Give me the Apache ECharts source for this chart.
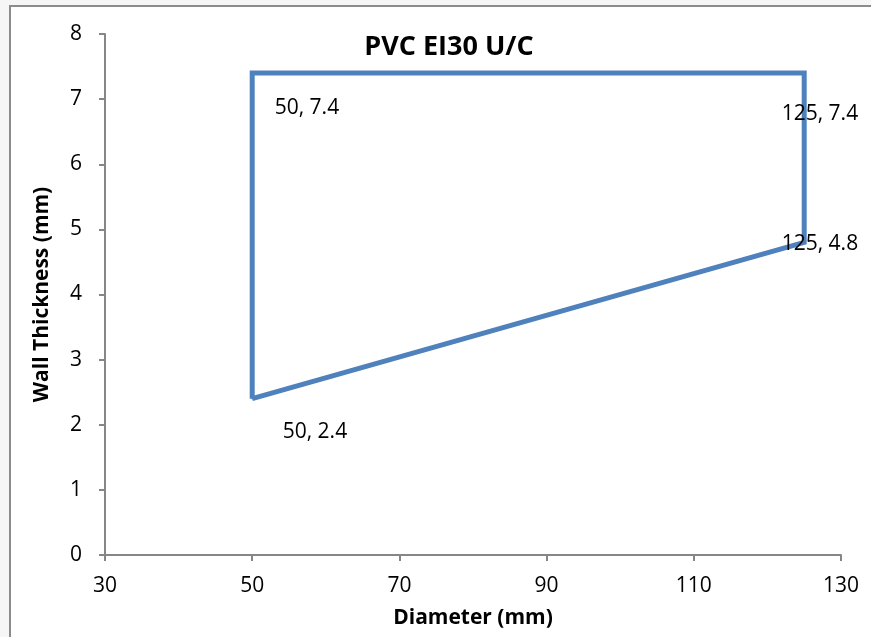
<!DOCTYPE html>
<html>
<head>
<meta charset="utf-8">
<script src="https://cdn.jsdelivr.net/npm/echarts@6/dist/echarts.min.js"></script>
<style>
  html, body { margin: 0; padding: 0; }
  #chart { width: 871px; height: 637px; }
</style>
</head>
<body>
<div id="chart"></div>
<script>
// outline points of the zone, closed back to the start
var diameters = [50, 50, 125, 125, 50];
var thickness = [2.4, 7.4, 7.4, 4.8, 2.4];
var xTicks = [30, 50, 70, 90, 110, 130];
var yTicks = [0, 1, 2, 3, 4, 5, 6, 7, 8];

// where each point label sits relative to its corner
var labelOffsets = [[30, 33], [22, 35], [-23, 41], [-23, 2], null];

var myChart = echarts.init(document.getElementById('chart'));
var font = '"Open Sans", "Noto Sans", sans-serif';
var axisColor = '#868686';

var data = diameters.map(function (d, i) {
    var item = { value: [d, thickness[i]] };
    if (labelOffsets[i]) {
        item.label = {
            show: true,
            position: 'right',
            distance: 0,
            offset: labelOffsets[i],
            formatter: d + ', ' + thickness[i]
        };
    } else {
        item.label = { show: false };
    }
    return item;
});

var option = {
    backgroundColor: '#f6f6f6',
    animation: false,
    graphic: [{
        type: 'rect',
        z: -10,
        shape: { x: 10, y: 6, width: 900, height: 700 },
        style: { fill: '#ffffff', stroke: '#8c8c8c', lineWidth: 2 }
    }],
    title: {
        text: 'PVC EI30 U/C',
        left: 444,
        top: 29,
        textAlign: 'center',
        textStyle: { fontFamily: font, fontSize: 27, fontWeight: 'bold', color: '#000' }
    },
    grid: { left: 105, right: 30, top: 34, bottom: 82 },
    xAxis: {
        type: 'value',
        min: xTicks[0],
        max: xTicks[xTicks.length - 1],
        interval: 20,
        name: 'Diameter (mm)',
        nameLocation: 'middle',
        nameGap: 53,
        nameTextStyle: { fontFamily: font, fontSize: 21, fontWeight: 'bold', color: '#000' },
        axisLine: { show: true, lineStyle: { color: axisColor, width: 2 } },
        axisTick: { show: true, length: 6, lineStyle: { color: axisColor, width: 2 } },
        axisLabel: { fontFamily: font, fontSize: 21, color: '#000', margin: 21 },
        splitLine: { show: false }
    },
    yAxis: {
        type: 'value',
        min: yTicks[0],
        max: yTicks[yTicks.length - 1],
        interval: 1,
        name: 'Wall Thickness (mm)',
        nameLocation: 'middle',
        nameGap: 52,
        nameTextStyle: { fontFamily: font, fontSize: 21, fontWeight: 'bold', color: '#000' },
        axisLine: { show: true, lineStyle: { color: axisColor, width: 2 } },
        axisTick: { show: true, length: 6, lineStyle: { color: axisColor, width: 2 } },
        axisLabel: { fontFamily: font, fontSize: 21, color: '#000', margin: 23 },
        splitLine: { show: false }
    },
    series: [{
        type: 'line',
        data: data,
        symbol: 'circle',
        symbolSize: 1,
        showSymbol: true,
        lineStyle: { color: '#4F81BD', width: 5, join: 'miter' },
        itemStyle: { color: '#4F81BD' },
        label: {
            fontFamily: font,
            fontSize: 21,
            color: '#000'
        }
    }]
};

myChart.setOption(option);

window.addEventListener('resize', function () {
    myChart.resize();
});
</script>
</body>
</html>
